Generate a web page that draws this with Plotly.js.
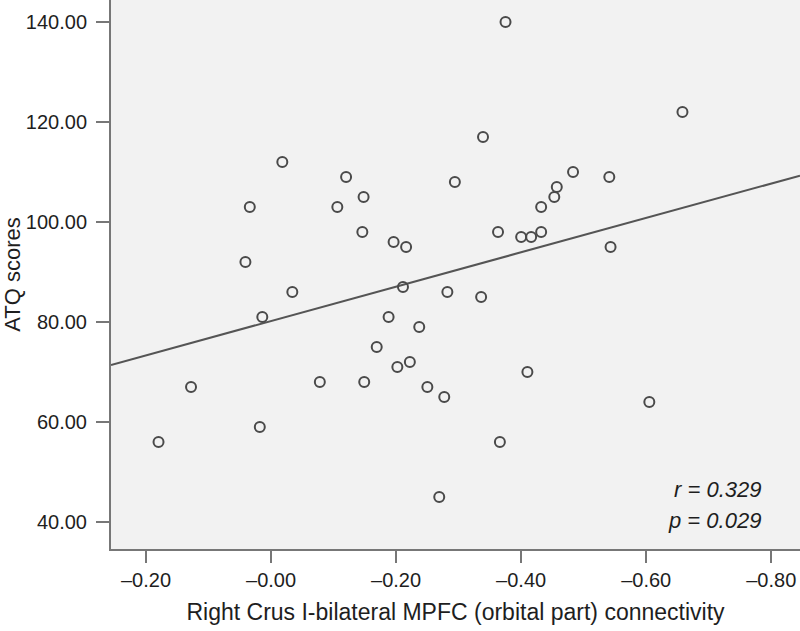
<!DOCTYPE html>
<html>
<head>
<meta charset="utf-8">
<script src="https://cdn.plot.ly/plotly-3.0.1.min.js"></script>
<style>html,body{margin:0;padding:0;background:#fff;}#chart{width:800px;height:631px;}</style>
</head>
<body>
<div id="chart"></div>
<script>
// connectivity values (axis position values) and ATQ scores
const connectivity = [
  0.180, 0.128, 0.034, 0.041, 0.018, 0.014, -0.018, -0.034, -0.078,
  -0.106, -0.120, -0.148, -0.146, -0.149, -0.169, -0.188, -0.196, -0.202,
  -0.216, -0.211, -0.222, -0.237, -0.250, -0.269, -0.277, -0.282, -0.294,
  -0.336, -0.339, -0.363, -0.375, -0.400, -0.410, -0.366, -0.416, -0.432,
  -0.432, -0.453, -0.457, -0.483, -0.541, -0.543, -0.605, -0.658
];
const atqScores = [
  56, 67, 103, 92, 59, 81, 112, 86, 68,
  103, 109, 105, 98, 68, 75, 81, 96, 71,
  95, 87, 72, 79, 67, 45, 65, 86, 108,
  85, 117, 98, 140, 97, 70, 56, 97, 98,
  103, 105, 107, 110, 109, 95, 64, 122
];
const xTickVals = [0.2, 0, -0.2, -0.4, -0.6, -0.8];
const xTickText = ["\u20130.20", "\u20130.00", "\u20130.20", "\u20130.40", "\u20130.60", "\u20130.80"];
const yTickVals = [40, 60, 80, 100, 120, 140];
const yTickText = ["40.00", "60.00", "80.00", "100.00", "120.00", "140.00"];
const statR = "r = 0.329";
const statP = "p = 0.029";

const xRange = [0.256, -0.846];
const yRange = [34.6, 144.4];

// least-squares fit line from the data
const n = connectivity.length;
const mx = connectivity.reduce((a, b) => a + b, 0) / n;
const my = atqScores.reduce((a, b) => a + b, 0) / n;
let sxy = 0, sxx = 0;
for (let i = 0; i < n; i++) {
  sxy += (connectivity[i] - mx) * (atqScores[i] - my);
  sxx += (connectivity[i] - mx) ** 2;
}
const slope = sxy / sxx;
const intercept = my - slope * mx;
const fitX = [xRange[0], xRange[1]];
const fitY = fitX.map(x => intercept + slope * x);

const FONT = "Liberation Sans, Arial, Helvetica, sans-serif";
const TXT = "#1e1e1e";

const traces = [
  {
    x: fitX, y: fitY, mode: "lines", type: "scatter",
    line: {color: "#555555", width: 2}, hoverinfo: "skip", showlegend: false
  },
  {
    x: connectivity, y: atqScores, mode: "markers", type: "scatter",
    marker: {symbol: "circle-open", size: 10, color: "#4a4a4a", line: {width: 2, color: "#4a4a4a"}},
    showlegend: false
  }
];

const layout = {
  width: 800, height: 631,
  margin: {l: 111, r: 0, t: 0, b: 82},
  paper_bgcolor: "#ffffff",
  plot_bgcolor: "#f2f2f2",
  font: {family: FONT, size: 20, color: TXT},
  showlegend: false,
  xaxis: {
    range: xRange, tickvals: xTickVals, ticktext: xTickText,
    showgrid: false, zeroline: false, showline: true, linecolor: "#777777", linewidth: 2,
    ticks: "outside", ticklen: 12, tickwidth: 2, tickcolor: "#777777",
    tickfont: {family: FONT, size: 20, color: TXT},
    title: {text: "Right Crus I-bilateral MPFC (orbital part) connectivity", font: {family: FONT, size: 23, color: TXT}, standoff: 14}
  },
  yaxis: {
    range: yRange, tickvals: yTickVals, ticktext: yTickText,
    showgrid: false, zeroline: false, showline: true, linecolor: "#777777", linewidth: 2,
    ticks: "outside", ticklen: 13, tickwidth: 2, tickcolor: "#777777",
    ticklabelstandoff: 5,
    tickfont: {family: FONT, size: 20, color: TXT},
    title: {text: "ATQ scores", font: {family: FONT, size: 22, color: TXT}, standoff: 14}
  },
  annotations: [
    {xref: "paper", yref: "paper", x: 0.946, y: 0.1075, xanchor: "right", yanchor: "middle",
     text: "<i>" + statR + "</i>", showarrow: false, font: {family: FONT, size: 22, color: TXT}},
    {xref: "paper", yref: "paper", x: 0.946, y: 0.052, xanchor: "right", yanchor: "middle",
     text: "<i>" + statP + "</i>", showarrow: false, font: {family: FONT, size: 22, color: TXT}}
  ]
};

Plotly.newPlot("chart", traces, layout, {displayModeBar: false, staticPlot: true});
</script>
</body>
</html>
